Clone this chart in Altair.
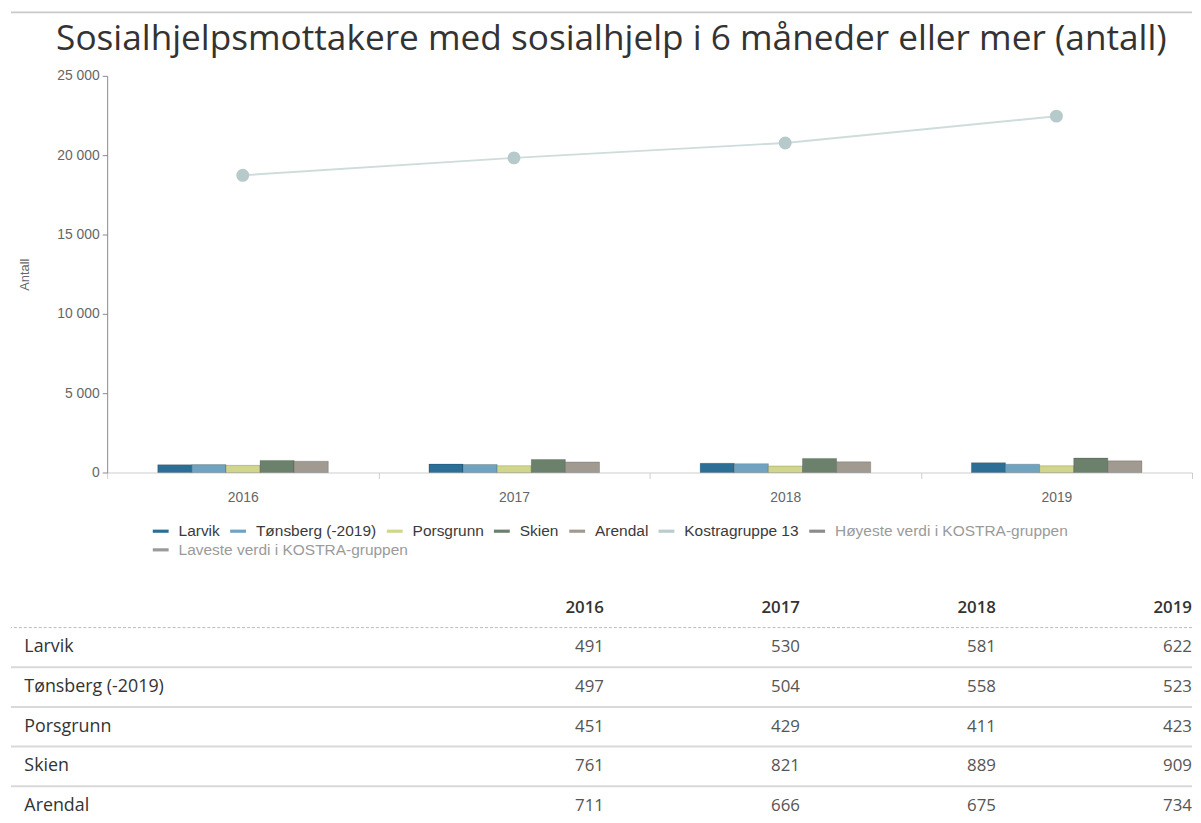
import altair as alt
import pandas as pd

# ---------------- data ----------------
years = ["2016", "2017", "2018", "2019"]
municipalities = ["Larvik", "Tønsberg (-2019)", "Porsgrunn", "Skien", "Arendal"]
larvik = [491, 530, 581, 622]
tonsberg = [497, 504, 558, 523]
porsgrunn = [451, 429, 411, 423]
skien = [761, 821, 889, 909]
arendal = [711, 666, 675, 734]
kostra_label = "Kostragruppe 13"
kostra13 = [18730, 19830, 20770, 22460]
hidden_series = ["Høyeste verdi i KOSTRA-gruppen", "Laveste verdi i KOSTRA-gruppen"]
series_colors = ["#2c6f96", "#6fa3bf", "#d1d68d", "#6b816c", "#a09a91",
                 "#b9cdce", "#8c8c8c"]
hidden_color = "#9a9a9a"

chart_title = "Sosialhjelpsmottakere med sosialhjelp i 6 måneder eller mer (antall)"
y_title = "Antall"
y_ticks = [0, 5000, 10000, 15000, 20000, 25000]
header_key = " "

# ---------------- tables built from the arrays ----------------
mun_values = [larvik, tonsberg, porsgrunn, skien, arendal]
bar_rows = []
for name, vals in zip(municipalities, mun_values):
    for yr, v in zip(years, vals):
        bar_rows.append({"year": yr, "series": name, "value": v})
bar_df = pd.DataFrame(bar_rows)
line_df = pd.DataFrame({"year": years, "value": kostra13})
legend2_df = pd.DataFrame({"year": [years[0]], "series2": [hidden_series[1]],
                           "value": [float("nan")]})

color_domain = municipalities + [kostra_label] + [hidden_series[0]]

table_rows = [header_key] + municipalities
header_df = pd.DataFrame({"row": [header_key] * len(years), "col": years, "text": years})
cell_rows = []
for name, vals in zip(municipalities, mun_values):
    for yr, v in zip(years, vals):
        cell_rows.append({"row": name, "col": yr, "text": str(v)})
cell_df = pd.DataFrame(cell_rows)
sep_df = pd.DataFrame({"row": municipalities,
                       "kind": ["dash"] + ["solid"] * (len(municipalities) - 1)})

AX_FONT = "Liberation Sans"
TB_FONT = "Open Sans"
hidden_expr = ("indexof(['" + "','".join(hidden_series) + "'], datum.value) >= 0 ? '#9a9a9a' : '#3a3a3a'")
legend_common = dict(
    title=None, orient="none", direction="horizontal",
    symbolType="M-1,-0.2H1V0.2H-1Z", symbolSize=256, symbolStrokeWidth=0,
    labelFont=AX_FONT, labelFontSize=15.6, labelOffset=10, columnPadding=10,
    labelLimit=400,
)

# ---------------- top rule panel ----------------
top_rule = alt.Chart(pd.DataFrame({"k": [0]})).mark_rule(
    color="#c9c9c9", strokeWidth=2
).encode(y=alt.value(1)).properties(width=1191, height=2)

# ---------------- chart panel ----------------
x_enc = alt.X(
    "year:N", sort=years,
    scale=alt.Scale(range=[97, 1191], paddingInner=0, paddingOuter=0),
    axis=alt.Axis(title=None, labelAngle=0, labelFont=AX_FONT, labelFontSize=14,
                  labelColor="#666666", labelPadding=12, tickBand="extent",
                  tickSize=6, tickColor="#cccccc", domainColor="#cccccc", grid=False),
)
y_enc = alt.Y(
    "value:Q",
    scale=alt.Scale(domain=[0, 25000], nice=False),
    axis=alt.Axis(values=y_ticks, offset=-97, grid=False,
                  labelExpr="replace(format(datum.value, ','), ',', ' ')",
                  labelFont=AX_FONT, labelFontSize=14, labelColor="#666666",
                  labelPadding=3, tickSize=5, tickColor="#8a8a8a", domainColor="#8a8a8a",
                  title=y_title, titleFont=AX_FONT, titleFontSize=13,
                  titleFontWeight="normal", titleColor="#666666",
                  titleX=-76, titleY=200),
)

bars = alt.Chart(bar_df).mark_bar(stroke="#000000", strokeOpacity=0.18, strokeWidth=1).encode(
    x=x_enc,
    xOffset=alt.XOffset("series:N", sort=municipalities,
                        scale=alt.Scale(range=[51, 223], paddingInner=0, paddingOuter=0)),
    y=y_enc,
    color=alt.Color(
        "series:N",
        scale=alt.Scale(domain=color_domain, range=series_colors),
        legend=alt.Legend(legendX=143, legendY=516,
                          labelColor=alt.ExprRef(hidden_expr), **legend_common),
    ),
)

legend2 = alt.Chart(legend2_df).mark_bar().encode(
    x=alt.X("year:N", sort=years),
    y="value:Q",
    fill=alt.Fill(
        "series2:N",
        scale=alt.Scale(domain=[hidden_series[1]], range=[hidden_color]),
        legend=alt.Legend(legendX=143, legendY=535, labelColor="#9a9a9a", **legend_common),
    ),
)

line = alt.Chart(line_df).mark_line(
    color="#cfdcdc", strokeWidth=2,
    point=alt.OverlayMarkDef(color="#b7cacb", size=170, filled=True, opacity=1),
).encode(x=alt.X("year:N", sort=years), y="value:Q")

chart_panel = alt.layer(bars, legend2, line).properties(
    width=1191, height=400,
    title=alt.Title(chart_title, font=TB_FONT, fontSize=35.5, fontWeight="normal",
                    color="#333333", anchor="middle", offset=12, dx=10),
)

# ---------------- table panel ----------------
row_y = alt.Y(
    "row:N", sort=table_rows,
    scale=alt.Scale(domain=table_rows, range=[76.4, 316.4], paddingInner=0, paddingOuter=0),
    axis=alt.Axis(title=None, domain=False, ticks=False, tickSize=0, grid=False,
                  labelAlign="left", labelPadding=-13, labelFont=TB_FONT,
                  labelFontSize=18, labelColor="#333333"),
)
col_x = alt.X("col:N", sort=years,
              scale=alt.Scale(type="point", domain=years, range=[598, 1191], padding=0),
              axis=None)

header_text = alt.Chart(header_df).mark_text(
    align="right", font=TB_FONT, fontSize=17, fontWeight=600, color="#333333"
).encode(x=col_x, y=row_y, text="text:N")

cell_text = alt.Chart(cell_df).mark_text(
    align="right", font=TB_FONT, fontSize=17, color="#555555"
).encode(x=col_x, y=row_y, text="text:N")

dash_rule = alt.Chart(sep_df).transform_filter("datum.kind == 'dash'").mark_rule(
    color="#bbbbbb", strokeWidth=1, strokeDash=[3, 2]
).encode(y=alt.Y("row:N", sort=table_rows, bandPosition=0))

solid_rule = alt.Chart(sep_df).transform_filter("datum.kind == 'solid'").mark_rule(
    color="#d9d9d9", strokeWidth=2
).encode(y=alt.Y("row:N", sort=table_rows, bandPosition=0))

table_panel = alt.layer(dash_rule, solid_rule, header_text, cell_text).properties(
    width=1191, height=300
)

chart = alt.vconcat(top_rule, chart_panel, table_panel, spacing=8).properties(
    padding={"left": 2, "top": 0, "right": 0, "bottom": 0}
).configure_view(stroke=None)

chart.save("out.html", embed_options={"renderer": "svg", "actions": False})
